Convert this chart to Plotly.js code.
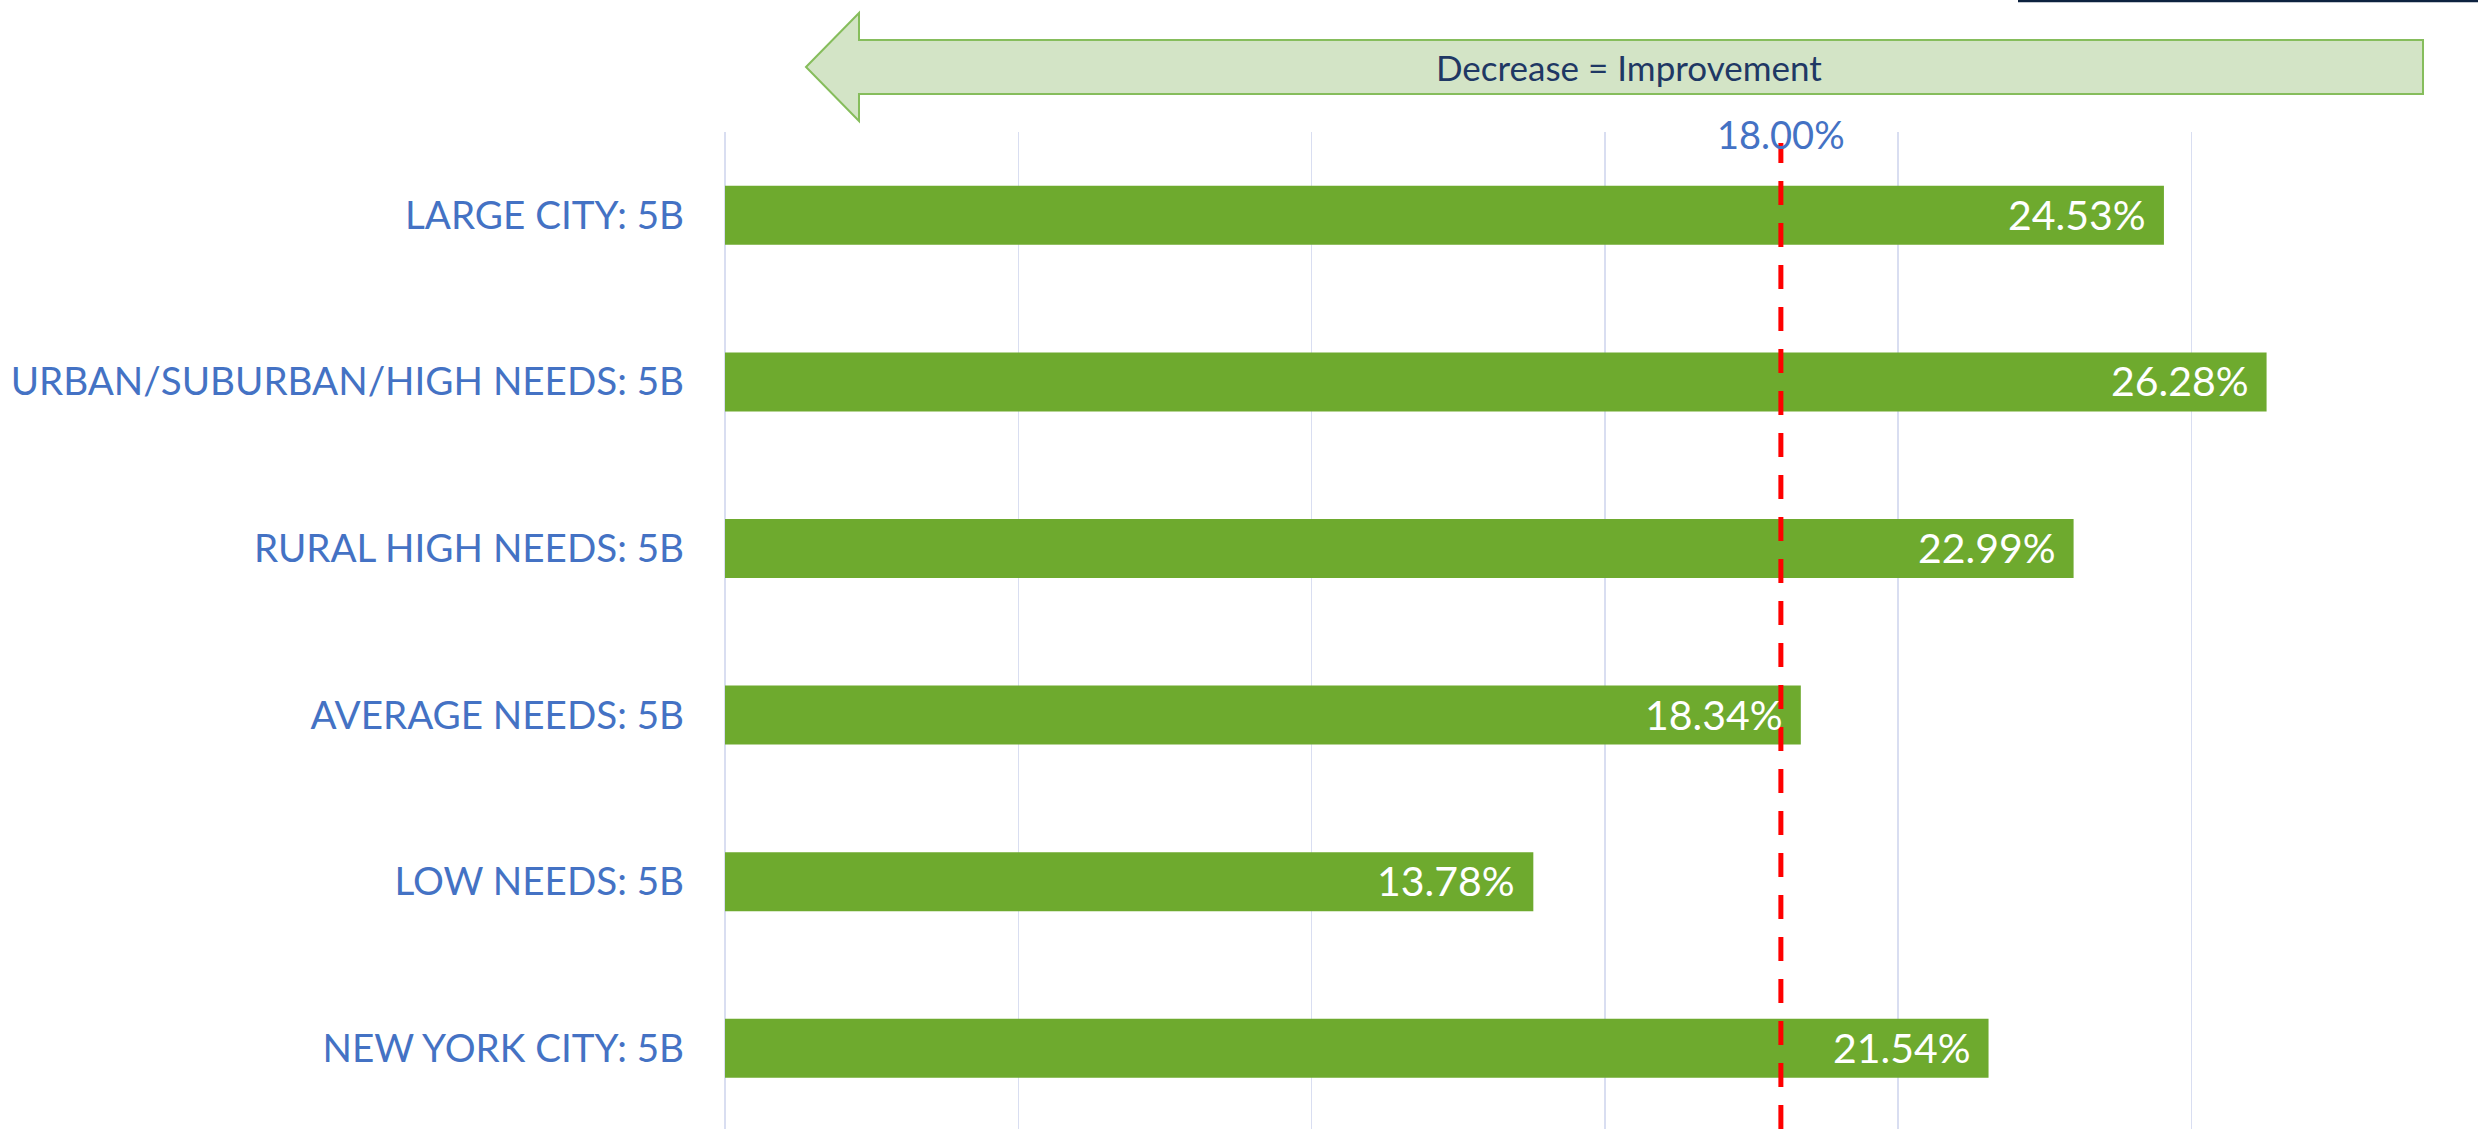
<!DOCTYPE html>
<html>
<head>
<meta charset="utf-8">
<script src="https://cdn.plot.ly/plotly-3.0.1.min.js"></script>
<style>
  html, body { margin: 0; padding: 0; background: #ffffff; }
  #chart { width: 2478px; height: 1129px; }
</style>
</head>
<body>
<div id="chart"></div>
<script>
// ---- Data ----
const categories = [
  "LARGE CITY: 5B",
  "URBAN/SUBURBAN/HIGH NEEDS: 5B",
  "RURAL HIGH NEEDS: 5B",
  "AVERAGE NEEDS: 5B",
  "LOW NEEDS: 5B",
  "NEW YORK CITY: 5B"
];
const values = [24.53, 26.28, 22.99, 18.34, 13.78, 21.54];
const target = 18.00;
const arrowLabel = "Decrease = Improvement";

// ---- Layout geometry (pixels) ----
const W = 2478, H = 1129;
const ML = 725, MT = 132;
const plotW = W - ML, plotH = H - MT;
const PX = p => (p - ML) / plotW;
const PY = p => 1 - (p - MT) / plotH;

const blue = "#4472C4";
const green = "#6EAA2E";
const font = "Lato, 'Open Sans', sans-serif";

const bar = {
  type: "bar",
  orientation: "h",
  x: values,
  y: categories,
  marker: { color: green },
  width: 0.354,
  hoverinfo: "none"
};

const annotations = values.map((v, i) => ({
  x: v, y: categories[i], xref: "x", yref: "y",
  text: v.toFixed(2) + "%",
  xanchor: "right", yanchor: "middle",
  xshift: -16, yshift: 1,
  showarrow: false,
  font: { family: font, size: 41, color: "#ffffff" }
}));

annotations.push({
  x: target, xref: "x", y: PY(134), yref: "paper",
  text: target.toFixed(2) + "%",
  xanchor: "center", yanchor: "middle",
  showarrow: false,
  font: { family: font, size: 38, color: blue }
});

annotations.push({
  x: PX(1629), xref: "paper", y: PY(67), yref: "paper",
  text: arrowLabel,
  xanchor: "center", yanchor: "middle",
  showarrow: false,
  font: { family: font, size: 35, color: "#1F3864" }
});

const arrowPts = [
  [806, 67], [859, 13], [859, 40], [2423, 40], [2423, 94], [859, 94], [859, 121]
];
const arrowPath = "M " + arrowPts.map(p => PX(p[0]).toFixed(5) + "," + PY(p[1]).toFixed(5)).join(" L ") + " Z";

const shapes = [
  {
    type: "line", xref: "x", yref: "paper",
    x0: target, x1: target, y0: 0, y1: PY(143),
    line: { color: "#FF0000", width: 5, dash: "24px,18px" },
    layer: "above"
  },
  {
    type: "path", xref: "paper", yref: "paper",
    path: arrowPath,
    fillcolor: "#D3E4C6",
    line: { color: "#86BD5C", width: 2 },
    layer: "above"
  },
  {
    type: "line", xref: "paper", yref: "paper",
    x0: PX(2018), x1: PX(2478), y0: PY(1), y1: PY(1),
    line: { color: "#0D2240", width: 2.5 },
    layer: "above"
  }
];

const layout = {
  width: W, height: H,
  margin: { l: ML, r: 0, t: MT, b: 0, pad: 0 },
  paper_bgcolor: "#ffffff",
  plot_bgcolor: "#ffffff",
  showlegend: false,
  xaxis: {
    range: [0, plotW / (293.3 / 5)],
    dtick: 5, tick0: 0,
    showticklabels: false,
    showgrid: true, gridcolor: "#D9DEF1", gridwidth: 1.5,
    zeroline: true, zerolinecolor: "#D9DEF1", zerolinewidth: 1.5,
    showline: false, ticks: "", fixedrange: true
  },
  yaxis: {
    type: "category",
    categoryorder: "array",
    categoryarray: categories,
    range: [5.5 - (6 * (166.6) - plotH) / 166.6, -0.5],
    showgrid: false, zeroline: false, showline: false,
    ticks: "", ticklabelstandoff: 40,
    tickfont: { family: font, size: 38.6, color: blue },
    fixedrange: true
  },
  annotations: annotations,
  shapes: shapes
};

Plotly.newPlot("chart", [bar], layout, { displayModeBar: false, staticPlot: true });
</script>
</body>
</html>
